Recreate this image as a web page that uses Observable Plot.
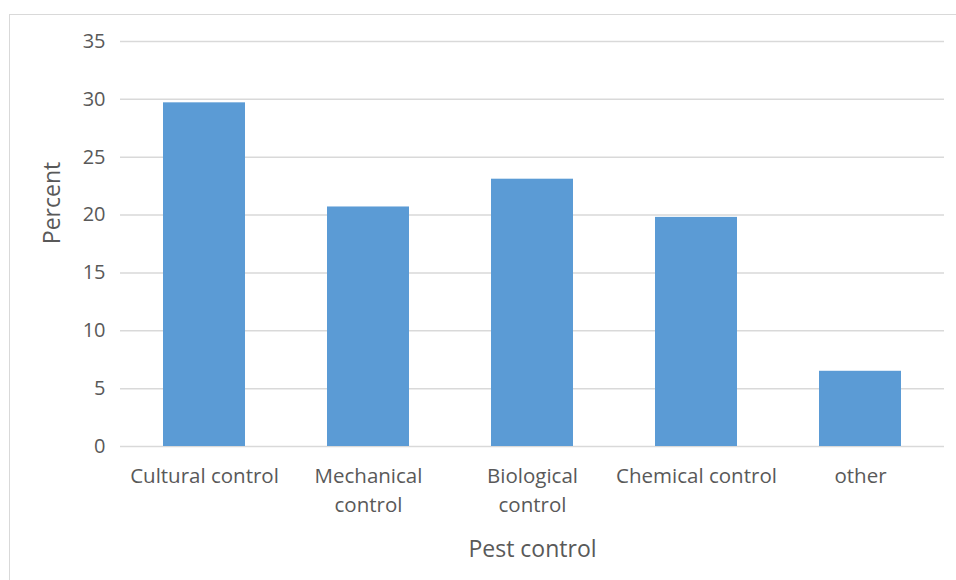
<!DOCTYPE html>
<html>
<head>
<meta charset="utf-8">
<script src="https://cdn.jsdelivr.net/npm/d3@7"></script>
<script src="https://cdn.jsdelivr.net/npm/@observablehq/plot@0.6"></script>
<style>
  html, body { margin: 0; padding: 0; background: #fff; }
  #wrap { position: relative; width: 956px; height: 580px; overflow: hidden; }
  #border { position: absolute; left: 9px; top: 14px; width: 1000px; height: 700px;
            border-left: 1.5px solid #d9d9d9; border-top: 1.5px solid #d9d9d9; }
  #chart { position: absolute; left: 0; top: 0; }
</style>
</head>
<body>
<div id="wrap"><div id="border"></div><div id="chart"></div></div>
<script>
// Share of pest control methods used (percent)
const categories = ["Cultural control", "Mechanical control", "Biological control", "Chemical control", "other"];
const tickLabels = ["Cultural control", "Mechanical\ncontrol", "Biological\ncontrol", "Chemical control", "other"];
const percents = [29.7, 20.7, 23.1, 19.8, 6.5];
const yTicks = [0, 5, 10, 15, 20, 25, 30, 35];
const xTitle = "Pest control";
const yTitle = "Percent";

const rows = categories.map((c, i) => ({category: c, value: percents[i]}));
const labelOf = new Map(categories.map((c, i) => [c, tickLabels[i]]));

const chart = Plot.plot({
  width: 956,
  height: 580,
  marginTop: 41,
  marginBottom: 134,
  marginLeft: 120,
  marginRight: 12,
  style: {fontFamily: "'Open Sans', sans-serif", color: "#595959", background: "transparent"},
  x: {domain: categories, paddingInner: 0.5, paddingOuter: 0.25, align: 0.5},
  y: {domain: [0, 35]},
  marks: [
    Plot.gridY(yTicks, {stroke: "#d9d9d9", strokeOpacity: 1, strokeWidth: 1.5}),
    Plot.barY(rows, {x: "category", y: "value", fill: "#5b9bd5"}),
    Plot.axisY({ticks: yTicks, tickSize: 0, tickPadding: 15, fontSize: 20, label: null}),
    Plot.axisX({tickSize: 0, tickPadding: 16, fontSize: 20.5, lineHeight: 1.42,
                tickFormat: (d) => labelOf.get(d), label: null}),
    Plot.text([xTitle], {frameAnchor: "bottom", lineAnchor: "middle", dy: 103, fontSize: 23, fill: "#595959"}),
    Plot.text([yTitle], {frameAnchor: "left", textAnchor: "middle", lineAnchor: "middle", rotate: -90,
                         dx: -68, dy: -41, fontSize: 23, fill: "#595959"})
  ]
});
document.getElementById("chart").appendChild(chart);
</script>
</body>
</html>
